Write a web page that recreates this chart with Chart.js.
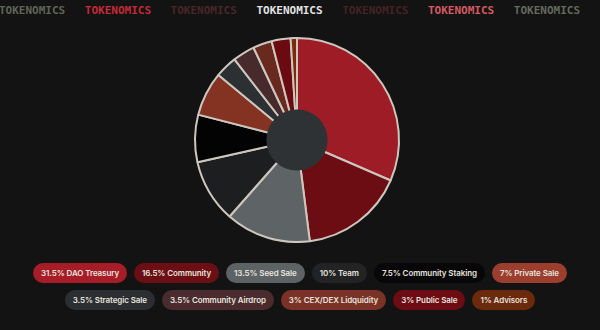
<!DOCTYPE html>
<html>
<head>
<meta charset="utf-8">
<script src="https://cdn.jsdelivr.net/npm/chart.js@4"></script>
<style>
  html, body { margin: 0; padding: 0; }
  body {
    width: 600px; height: 330px; overflow: hidden;
    background: #131313;
    font-family: Inter, "Noto Sans", sans-serif;
    position: relative;
  }
  .ticker { position: absolute; top: 4px; left: 0; width: 600px; height: 14px; }
  .ticker span {
    position: absolute; top: 0;
    font-family: "DejaVu Sans Mono", monospace; font-weight: bold;
    font-size: 11px; letter-spacing: 0px;
  }
  .chart-box { position: absolute; left: -3px; top: 37px; width: 600px; height: 206px; }
  .legend { position: absolute; left: 0; width: 600px; display: flex; justify-content: center; gap: 7px; }
  .pill {
    flex-shrink: 0;
    height: 20px; line-height: 20px; padding: 0 8px; border-radius: 10px;
    color: #e6e2de; font-size: 8px; font-weight: 600; white-space: nowrap;
    letter-spacing: -0.1px;
  }
</style>
</head>
<body>
<div class="ticker" id="ticker"></div>
<div class="chart-box"><canvas id="tokenChart"></canvas></div>
<div class="legend" id="legend1" style="top:263px"></div>
<div class="legend" id="legend2" style="top:290px"></div>
<script>
const categories = ['DAO Treasury', 'Community', 'Seed Sale', 'Team', 'Community Staking', 'Private Sale',
                    'Strategic Sale', 'Community Airdrop', 'CEX/DEX Lidquidity', 'Public Sale', 'Advisors'];
const shares = [31.5, 16.5, 13.5, 10, 7.5, 7, 3.5, 3.5, 3, 3, 1];
const sliceColors = ['#9e1c25', '#6c0c13', '#5e6366', '#1d1e1f', '#030303', '#843322',
                     '#2c3033', '#472a2c', '#69291e', '#6c0a12', '#7a2c08'];
const pillColors = ['#a61d27', '#6c0f15', '#5d6265', '#222324', '#070707', '#9c3e2e',
                    '#2c2f31', '#4a2c2e', '#7a3226', '#6e0c14', '#6c2a0c'];

const tickerWords = ['TOKENOMICS', 'TOKENOMICS', 'TOKENOMICS', 'TOKENOMICS', 'TOKENOMICS', 'TOKENOMICS', 'TOKENOMICS'];
const tickerColors = ['#5f6556', '#c42a38', '#4a2629', '#e2e2e2', '#452226', '#d45a62', '#646a5c'];

// faixa do topo
const ticker = document.getElementById('ticker');
tickerWords.forEach((w, i) => {
  const s = document.createElement('span');
  s.textContent = w;
  s.style.left = (i * 85.8 - 1) + 'px';
  s.style.color = tickerColors[i];
  ticker.appendChild(s);
});

// círculo central
const centerHole = {
  id: 'centerHole',
  afterDatasetsDraw(chart) {
    const arc = chart.getDatasetMeta(0).data[0];
    if (!arc) return;
    const ctx = chart.ctx;
    ctx.save();
    ctx.beginPath();
    ctx.arc(arc.x, arc.y, arc.outerRadius * 0.3, 0, Math.PI * 2);
    ctx.fillStyle = '#2e3235';
    ctx.fill();
    ctx.restore();
  }
};

const ctx = document.getElementById('tokenChart').getContext('2d');
new Chart(ctx, {
  type: 'pie',
  data: {
    labels: categories,
    datasets: [{
      data: shares,
      backgroundColor: sliceColors,
      borderColor: '#cdc6bf',
      borderWidth: 2,
      hoverOffset: 0
    }]
  },
  options: {
    responsive: true,
    maintainAspectRatio: false,
    animation: false,
    layout: { padding: 0 },
    plugins: {
      legend: { display: false },
      tooltip: { enabled: false }
    }
  },
  plugins: [centerHole]
});

// legenda em pílulas
const row1 = document.getElementById('legend1');
const row2 = document.getElementById('legend2');
categories.forEach((c, i) => {
  const p = document.createElement('div');
  p.className = 'pill';
  p.textContent = shares[i] + '% ' + c;
  p.style.background = pillColors[i];
  (i < 6 ? row1 : row2).appendChild(p);
});
</script>
</body>
</html>
